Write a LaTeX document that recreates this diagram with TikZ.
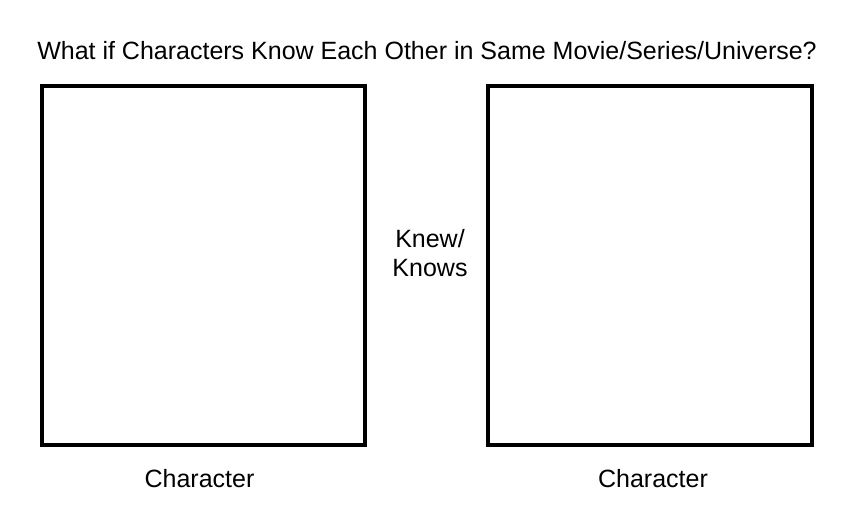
\documentclass[tikz,border=0pt]{standalone}
\usepackage{fontspec}
\setmainfont{Liberation Sans}
\begin{document}
\begin{tikzpicture}[x=1pt,y=-1pt,
  cardbox/.style={draw=black,line width=4pt},
  lbl/.style={inner sep=0pt,font=\fontsize{25}{29}\selectfont}]
\useasboundingbox (0,0) rectangle (850,515);
\node[lbl,anchor=base] (title) at (427,59.5) {What if Characters Know Each Other in Same Movie/Series/Universe?};
\draw[cardbox] (42,86) rectangle (364.7,444.7);
\draw[cardbox] (488,86) rectangle (812,444.7);
\node[lbl,anchor=base,align=center] (rel) at (430,276.7) {Knew/\\Knows};
\node[lbl,anchor=base] (c1) at (199.5,487.3) {Character};
\node[lbl,anchor=base] (c2) at (653,487.3) {Character};
\end{tikzpicture}
\end{document}
